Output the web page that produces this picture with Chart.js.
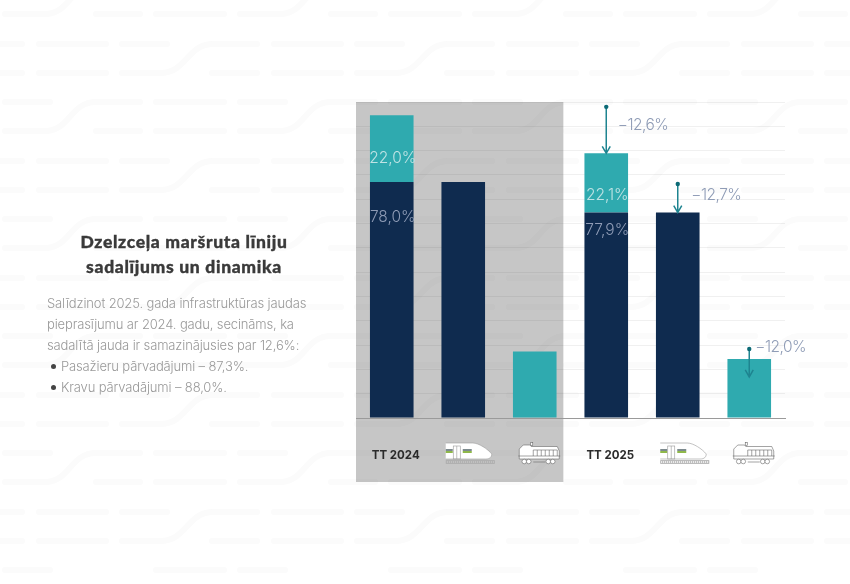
<!DOCTYPE html>
<html lang="lv">
<head>
<meta charset="utf-8">
<title>Dzelzceļa maršruta līniju sadalījums un dinamika</title>
<script src="https://cdn.jsdelivr.net/npm/chart.js@4"></script>
<style>
    html, body { margin: 0; padding: 0; background: #fff; }
    #page { position: relative; width: 850px; height: 584px; overflow: hidden; }
    #bg, #chart { position: absolute; left: 0; top: 0; }
    #title {
        position: absolute; left: 34px; top: 229px; width: 300px; text-align: center;
        font: 900 17.5px/25px Lato, sans-serif; color: #3a3a3a; letter-spacing: .67px;
        -webkit-text-stroke: .35px #3a3a3a;
    }
    #body {
        position: absolute; left: 47px; top: 293px; width: 290px;
        font: 300 13px/20.9px Inter, sans-serif; color: #999; white-space: nowrap; letter-spacing: -.14px;
    }
    #body .item { padding-left: 14px; position: relative; }
    #body .item::before {
        content: ""; position: absolute; left: 4px; top: 8px; width: 5px; height: 5px;
        border-radius: 50%; background: #444;
    }
</style>
</head>
<body>
<div id="page">
    <canvas id="bg" width="850" height="584"></canvas>
    <canvas id="chart" width="850" height="584"></canvas>
    <div id="title">Dzelzceļa maršruta līniju<br>sadalījums un dinamika</div>
    <div id="body">
        Salīdzinot 2025. gada infrastruktūras jaudas<br>
        pieprasījumu ar 2024. gadu, secināms, ka<br>
        sadalītā jauda ir samazinājusies par 12,6%:
        <div class="item">Pasažieru pārvadājumi – 87,3%.</div>
        <div class="item">Kravu pārvadājumi – 88,0%.</div>
    </div>
</div>
<script>
const xLabels = ['TT 2024', '', '', 'TT 2025', '', ''];
const navyValues = [77.7, 77.7, null, 67.6, 67.6, null];
const tealValues = [21.9, null, 21.9, 19.5, null, 19.4];

// share labels inside the stacked bars
const shareIndex = [0, 0, 3, 3];
const shareLevel = [85.6, 66.2, 73.4, 61.9];
const shareText = ['22,0%', '78,0%', '22,1%', '77,9%'];
const shareColor = ['#bfe3e4', '#8f9cb6', '#bfe3e4', '#8f9cb6'];

// change arrows on the 2025 bars
const arrowIndex = [3, 4, 5];
const arrowFrom = [102.4, 77, 22.7];
const arrowTo = [87.1, 67.6, 13.5];
const arrowText = ['−12,6%', '−12,7%', '−12,0%'];
const arrowTextDx = [11.5, 13.5, 6];
const arrowTextLevel = [96.2, 73.4, 23.3];

const trainIndex = [1, 4];
const locoIndex = [2, 5];

const NAVY = '#0f2b4f';
const TEAL = '#2faaaf';
const LIGHT_FONT = '300 15.5px Inter, sans-serif';

/**
 * Paints the faint rail pattern behind everything
 */
function drawBackground() {
    const ctx = document.getElementById('bg').getContext('2d');
    const tileW = 235;
    const tileH = 117;
    const dashes = [
        [14, 96, 140], [14, 156, 224],
        [44, 39, 106], [44, 122, 167], [44, 212, 257],
        [73, 39, 106], [73, 212, 257],
        [102, 5, 50], [102, 156, 224]
    ];
    ctx.strokeStyle = '#fbfbfb';
    ctx.lineWidth = 6;
    ctx.lineCap = 'round';
    for (let ty = -tileH; ty < 584; ty += tileH) {
        for (let tx = -tileW; tx < 850; tx += tileW) {
            dashes.forEach(([y, x1, x2]) => {
                ctx.beginPath();
                ctx.moveTo(tx + x1, ty + y);
                ctx.lineTo(tx + x2, ty + y);
                ctx.stroke();
            });
            // rising links between two rows
            ctx.beginPath();
            ctx.moveTo(tx + 5, ty + 14);
            ctx.lineTo(tx + 45, ty + 14);
            ctx.bezierCurveTo(tx + 70, ty + 14, tx + 70, ty - 15, tx + 96, ty - 15);
            ctx.lineTo(tx + 140, ty - 15);
            ctx.stroke();
            ctx.beginPath();
            ctx.moveTo(tx + 122, ty + 73);
            ctx.lineTo(tx + 160, ty + 73);
            ctx.bezierCurveTo(tx + 187, ty + 73, tx + 187, ty + 44, tx + 213, ty + 44);
            ctx.stroke();
        }
    }
}

/**
 * Draws the passenger train icon around a category centre
 */
function drawTrain(ctx, cx, y) {
    const x = cx - 17.5;
    ctx.save();
    ctx.fillStyle = '#fff';
    ctx.strokeStyle = '#9a9a9a';
    ctx.lineWidth = 0.6;
    ctx.beginPath();
    ctx.moveTo(x, y + 25);
    ctx.lineTo(x + 27, y + 25);
    ctx.bezierCurveTo(x + 33, y + 25, x + 42, y + 31, x + 46, y + 36);
    ctx.bezierCurveTo(x + 46, y + 39, x + 44, y + 41, x + 40, y + 41);
    ctx.lineTo(x, y + 41);
    ctx.fill();
    ctx.stroke();
    ctx.fillStyle = '#8fb84a';
    ctx.fillRect(x, y + 33, 7, 2);
    ctx.fillRect(x + 17, y + 33, 9, 2);
    ctx.fillStyle = '#7d8a8e';
    ctx.fillRect(x, y + 31, 7, 2);
    ctx.fillRect(x + 17, y + 31, 9, 2);
    ctx.strokeStyle = '#999';
    ctx.strokeRect(x + 7.5, y + 28, 7, 13);
    ctx.beginPath();
    ctx.moveTo(x + 11, y + 28);
    ctx.lineTo(x + 11, y + 41);
    ctx.stroke();
    // track
    ctx.strokeStyle = '#aaa';
    ctx.lineWidth = 0.8;
    ctx.beginPath();
    ctx.moveTo(x, y + 42.5);
    ctx.lineTo(x + 49, y + 42.5);
    ctx.moveTo(x, y + 45.5);
    ctx.lineTo(x + 49, y + 45.5);
    ctx.stroke();
    ctx.setLineDash([1, 1]);
    ctx.lineWidth = 2;
    ctx.beginPath();
    ctx.moveTo(x, y + 44);
    ctx.lineTo(x + 49, y + 44);
    ctx.stroke();
    ctx.restore();
}

/**
 * Draws the freight locomotive icon around a category centre
 */
function drawLoco(ctx, cx, y) {
    const x = cx - 16.5;
    ctx.save();
    ctx.fillStyle = '#fff';
    ctx.strokeStyle = '#666';
    ctx.lineWidth = 0.6;
    ctx.beginPath();
    ctx.moveTo(x + 1, y + 34);
    ctx.lineTo(x + 1, y + 31);
    ctx.lineTo(x + 5, y + 27);
    ctx.lineTo(x + 12, y + 27);
    ctx.lineTo(x + 13, y + 28.5);
    ctx.lineTo(x + 39, y + 28.5);
    ctx.lineTo(x + 41, y + 33);
    ctx.lineTo(x + 41, y + 41);
    ctx.lineTo(x + 1, y + 41);
    ctx.closePath();
    ctx.fill();
    ctx.stroke();
    ctx.fillRect(x + 12.5, y + 24.5, 2, 3);
    ctx.strokeRect(x + 12.5, y + 24.5, 2, 3);
    ctx.beginPath();
    ctx.moveTo(x, y + 38);
    ctx.lineTo(x + 42, y + 38);
    for (let i = 0; i < 7; i++) {
        ctx.moveTo(x + 15 + i * 4, y + 32);
        ctx.lineTo(x + 15 + i * 4, y + 38);
    }
    ctx.moveTo(x + 15, y + 32);
    ctx.lineTo(x + 39, y + 32);
    ctx.moveTo(x + 15, y + 44);
    ctx.lineTo(x + 27, y + 44);
    ctx.stroke();
    [6, 10.5, 30, 34.5].forEach(dx => {
        ctx.beginPath();
        ctx.arc(x + dx, y + 43.5, 2.3, 0, Math.PI * 2);
        ctx.fill();
        ctx.stroke();
    });
    ctx.restore();
}

const decorPlugin = {
    id: 'decor',
    beforeDraw(chart) {
        const { ctx, scales } = chart;
        const band = scales.x.getPixelForTick(1) - scales.x.getPixelForTick(0);
        const right = scales.x.getPixelForTick(2) + band * 0.4;
        ctx.save();
        ctx.fillStyle = 'rgba(0, 0, 0, 0.225)';
        ctx.fillRect(scales.x.left, scales.y.top, right - scales.x.left, 380);
        ctx.restore();
    },
    afterDraw(chart) {
        const { ctx, scales } = chart;
        const iconTop = scales.y.bottom;

        ctx.save();
        ctx.font = LIGHT_FONT;
        ctx.textBaseline = 'middle';

        ctx.textAlign = 'center';
        shareText.forEach((text, i) => {
            ctx.fillStyle = shareColor[i];
            ctx.fillText(text, scales.x.getPixelForTick(shareIndex[i]) + 1, scales.y.getPixelForValue(shareLevel[i]));
        });

        arrowIndex.forEach((index, i) => {
            const x = scales.x.getPixelForTick(index);
            const y1 = scales.y.getPixelForValue(arrowFrom[i]);
            const y2 = scales.y.getPixelForValue(arrowTo[i]);
            ctx.strokeStyle = '#1e8490';
            ctx.lineWidth = 1.5;
            ctx.beginPath();
            ctx.moveTo(x, y1);
            ctx.lineTo(x, y2);
            ctx.moveTo(x - 4, y2 - 7);
            ctx.lineTo(x, y2);
            ctx.lineTo(x + 4, y2 - 7);
            ctx.stroke();
            ctx.fillStyle = '#0c6a76';
            ctx.beginPath();
            ctx.arc(x, y1, 2.2, 0, Math.PI * 2);
            ctx.fill();

            ctx.textAlign = 'left';
            ctx.letterSpacing = '-0.5px';
            ctx.fillStyle = '#8f9cb6';
            ctx.fillText(arrowText[i], x + arrowTextDx[i], scales.y.getPixelForValue(arrowTextLevel[i]));
            ctx.letterSpacing = '0px';
        });
        ctx.restore();

        trainIndex.forEach(index => drawTrain(ctx, scales.x.getPixelForTick(index), iconTop));
        locoIndex.forEach(index => drawLoco(ctx, scales.x.getPixelForTick(index), iconTop));
    }
};

drawBackground();

new Chart(document.getElementById('chart').getContext('2d'), {
    type: 'bar',
    plugins: [decorPlugin],
    data: {
        labels: xLabels,
        datasets: [
            { label: 'Pasažieru', data: navyValues, backgroundColor: NAVY },
            { label: 'Kravu', data: tealValues, backgroundColor: TEAL }
        ]
    },
    options: {
        responsive: false,
        animation: false,
        devicePixelRatio: 1,
        layout: { padding: { left: 356, right: 65, top: 102, bottom: 0 } },
        barPercentage: 0.61,
        categoryPercentage: 1,
        plugins: { legend: { display: false }, tooltip: { enabled: false } },
        scales: {
            x: {
                stacked: true,
                afterFit(scale) { scale.height = 166; },
                grid: { display: false },
                border: { color: '#9a9a9a', width: 1 },
                ticks: {
                    autoSkip: false,
                    maxRotation: 0,
                    padding: 23,
                    labelOffset: 4,
                    color: '#2b2b2b',
                    font: { family: 'Inter, sans-serif', size: 11.5, weight: '700' }
                }
            },
            y: {
                stacked: true,
                min: 0,
                max: 104,
                border: { display: false },
                grid: { color: 'rgba(0, 0, 0, 0.06)', drawTicks: false },
                ticks: { display: false, stepSize: 8 }
            }
        }
    }
});
</script>
</body>
</html>
